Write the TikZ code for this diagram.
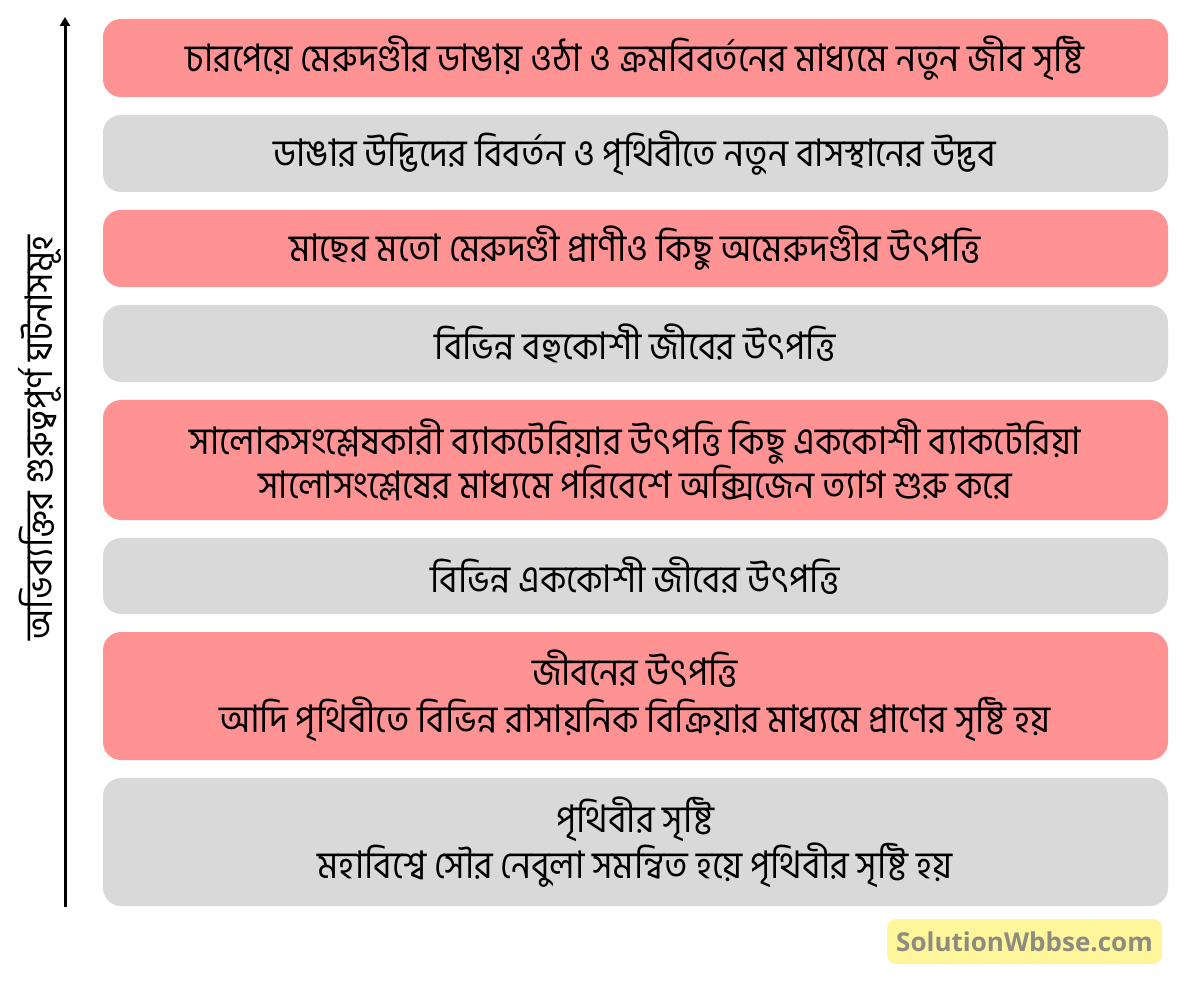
\documentclass[tikz,border=0pt]{standalone}
\usepackage{fontspec}
\newfontfamily\bn[Script=Bengali,FakeStretch=0.93]{Hind Siliguri}
\newfontfamily\wm{Open Sans}
\usetikzlibrary{arrows.meta}
\definecolor{pinkbox}{HTML}{FF9393}
\definecolor{graybox}{HTML}{D9D9D9}
\definecolor{wmbg}{HTML}{FFF59A}
\definecolor{wmtext}{HTML}{8C8C80}
\tikzset{
  evbox/.style={rounded corners=18pt, draw=none},
  evtext/.style={font=\bn\fontsize{38}{44}\selectfont, align=center, text=black, inner sep=0pt},
}
\begin{document}
\begin{tikzpicture}[x=1pt,y=-1pt]
\useasboundingbox[fill=white] (0,0) rectangle (1200,981);
% boxes
\fill[evbox,pinkbox] (103,19) rectangle (1168,97);
\fill[evbox,graybox] (103,115) rectangle (1168,192);
\fill[evbox,pinkbox] (103,210) rectangle (1168,287);
\fill[evbox,graybox] (103,305) rectangle (1168,382);
\fill[evbox,pinkbox] (103,400) rectangle (1168,520);
\fill[evbox,graybox] (103,538) rectangle (1168,614);
\fill[evbox,pinkbox] (103,632) rectangle (1168,760);
\fill[evbox,graybox] (103,778) rectangle (1168,906);
% texts
\node[evtext] (t1) at (635,58) {চারপেয়ে মেরুদণ্ডীর ডাঙায় ওঠা ও ক্রমবিবর্তনের মাধ্যমে নতুন জীব সৃষ্টি};
\node[evtext] (t2) at (635,153) {ডাঙার উদ্ভিদের বিবর্তন ও পৃথিবীতে নতুন বাসস্থানের উদ্ভব};
\node[evtext] (t3) at (635,248) {মাছের মতো মেরুদণ্ডী প্রাণীও কিছু অমেরুদণ্ডীর উৎপত্তি};
\node[evtext] (t4) at (635,343) {বিভিন্ন বহুকোশী জীবের উৎপত্তি};
\node[evtext] (t5) at (635,460) {সালোকসংশ্লেষকারী ব্যাকটেরিয়ার উৎপত্তি কিছু এককোশী ব্যাকটেরিয়া\\সালোসংশ্লেষের মাধ্যমে পরিবেশে অক্সিজেন ত্যাগ শুরু করে};
\node[evtext] (t6) at (635,576) {বিভিন্ন এককোশী জীবের উৎপত্তি};
\node[evtext, font=\bn\fontsize{38}{47}\selectfont] (t7) at (635,696) {জীবনের উৎপত্তি\\আদি পৃথিবীতে বিভিন্ন রাসায়নিক বিক্রিয়ার মাধ্যমে প্রাণের সৃষ্টি হয়};
\node[evtext] (t8) at (635,842) {পৃথিবীর সৃষ্টি\\মহাবিশ্বে সৌর নেবুলা সমন্বিত হয়ে পৃথিবীর সৃষ্টি হয়};
% axis
\coordinate (abot) at (65,907);
\coordinate (atop) at (65,17);
\draw[line width=3pt, -{Triangle[length=9pt,width=10pt]}] (abot) -- (atop);
\node[evtext, rotate=90] (axlabel) at (40,438) {অভিব্যক্তির গুরুত্বপূর্ণ ঘটনাসমূহ};
% watermark
\fill[wmbg, rounded corners=9pt] (887,919) rectangle (1162,964);
\node[font=\wm\bfseries\fontsize{26}{30}\selectfont, text=wmtext] (wm) at (1024.5,942) {SolutionWbbse.com};
\end{tikzpicture}
\end{document}
